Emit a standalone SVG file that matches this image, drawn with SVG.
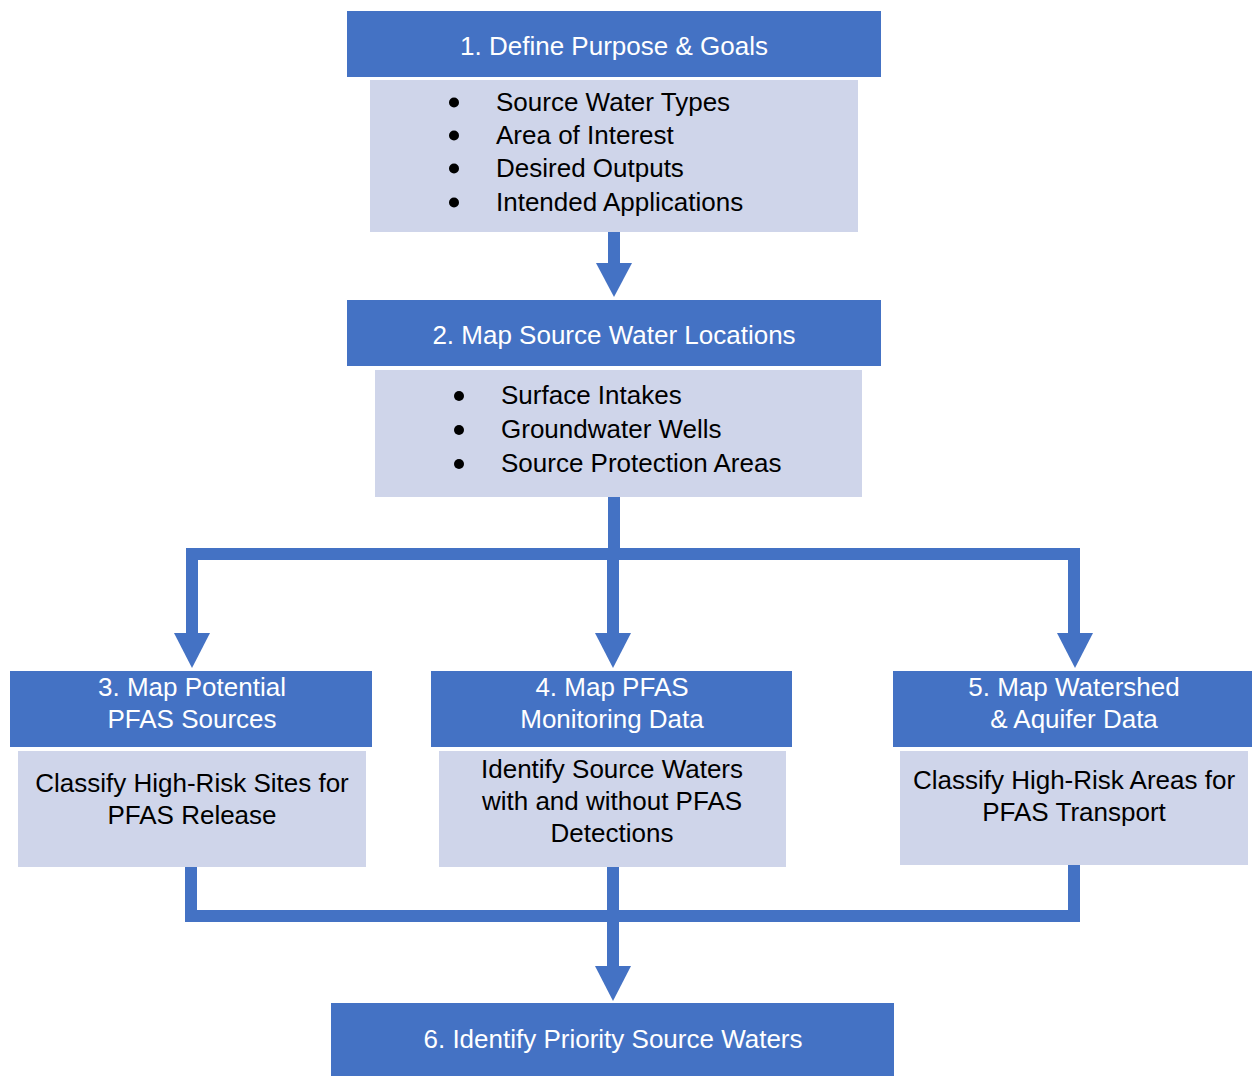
<svg xmlns="http://www.w3.org/2000/svg" width="1252" height="1076" viewBox="0 0 1252 1076">
<style>
.hdr{fill:#4472C4}
.body{fill:#CFD5EA}
text{font-family:"Liberation Sans",Arial,sans-serif;font-size:26px}
.ht{fill:#FFFFFF;text-anchor:middle}
.bt{fill:#000000;text-anchor:middle}
.lt{fill:#000000}
.bul{fill:#000000}
.conn{fill:none;stroke:#4472C4;stroke-width:12;stroke-linejoin:miter;stroke-linecap:butt}
.head{fill:#4472C4}
</style>
<rect width="1252" height="1076" fill="#FFFFFF"/>
<g id="connectors">
<path class="conn" d="M614,232 V264"/>
<polygon class="head" points="596,263 632,263 614,297"/>
<path class="conn" d="M614,497 V554 M192,634 V554 H1074 V634 M613,554 V634"/>
<polygon class="head" points="174,633 210,633 192,668"/>
<polygon class="head" points="595,633 631,633 613,668"/>
<polygon class="head" points="1057,633 1093,633 1075,668"/>
<path class="conn" d="M191,867 V916 H1074 V865 M613,867 V967"/>
<polygon class="head" points="595,966 631,966 613,1001"/>
</g>
<g id="node1">
<rect class="hdr" x="347" y="11" width="534" height="66"/>
<text class="ht" x="614" y="55">1. Define Purpose &amp; Goals</text>
<rect class="body" x="370" y="80" width="488" height="152"/>
<circle class="bul" cx="454" cy="102.5" r="5"/>
<circle class="bul" cx="454" cy="135.5" r="5"/>
<circle class="bul" cx="454" cy="168.5" r="5"/>
<circle class="bul" cx="454" cy="202.5" r="5"/>
<text class="lt" x="496" y="111">Source Water Types</text>
<text class="lt" x="496" y="144">Area of Interest</text>
<text class="lt" x="496" y="177">Desired Outputs</text>
<text class="lt" x="496" y="211">Intended Applications</text>
</g>
<g id="node2">
<rect class="hdr" x="347" y="300" width="534" height="66"/>
<text class="ht" x="614" y="344">2. Map Source Water Locations</text>
<rect class="body" x="375" y="370" width="487" height="127"/>
<circle class="bul" cx="459" cy="396" r="5"/>
<circle class="bul" cx="459" cy="430" r="5"/>
<circle class="bul" cx="459" cy="464" r="5"/>
<text class="lt" x="501" y="404">Surface Intakes</text>
<text class="lt" x="501" y="438">Groundwater Wells</text>
<text class="lt" x="501" y="472">Source Protection Areas</text>
</g>
<g id="node3">
<rect class="hdr" x="10" y="671" width="362" height="76"/>
<text class="ht" x="192" y="696">3. Map Potential</text>
<text class="ht" x="192" y="728">PFAS Sources</text>
<rect class="body" x="18" y="751" width="348" height="116"/>
<text class="bt" x="192" y="792">Classify High-Risk Sites for</text>
<text class="bt" x="192" y="824">PFAS Release</text>
</g>
<g id="node4">
<rect class="hdr" x="431" y="671" width="361" height="76"/>
<text class="ht" x="612" y="696">4. Map PFAS</text>
<text class="ht" x="612" y="728">Monitoring Data</text>
<rect class="body" x="439" y="751" width="347" height="116"/>
<text class="bt" x="612" y="778">Identify Source Waters</text>
<text class="bt" x="612" y="810">with and without PFAS</text>
<text class="bt" x="612" y="842">Detections</text>
</g>
<g id="node5">
<rect class="hdr" x="893" y="671" width="359" height="76"/>
<text class="ht" x="1074" y="696">5. Map Watershed</text>
<text class="ht" x="1074" y="728">&amp; Aquifer Data</text>
<rect class="body" x="900" y="751" width="348" height="114"/>
<text class="bt" x="1074" y="789">Classify High-Risk Areas for</text>
<text class="bt" x="1074" y="821">PFAS Transport</text>
</g>
<g id="node6">
<rect class="hdr" x="331" y="1003" width="563" height="73"/>
<text class="ht" x="613" y="1048">6. Identify Priority Source Waters</text>
</g>
</svg>
